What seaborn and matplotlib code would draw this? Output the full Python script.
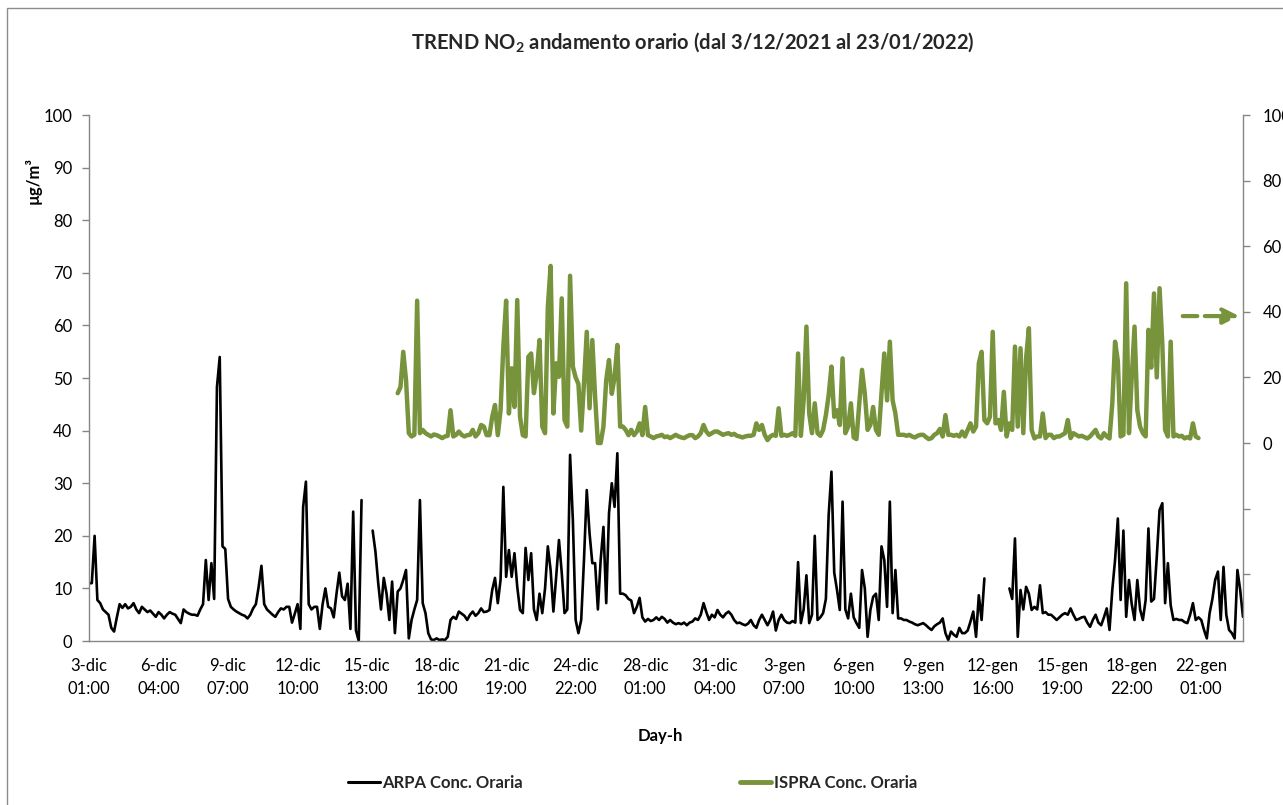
import numpy as np
import pandas as pd
import seaborn as sns
import matplotlib.pyplot as plt
from matplotlib.lines import Line2D
from matplotlib.patches import Rectangle

sns.set_theme(style="white")
plt.rcParams["font.family"] = ["Lato", "DejaVu Sans"]
plt.rcParams["mathtext.fontset"] = "custom"
plt.rcParams["mathtext.rm"] = "Lato"
plt.rcParams["mathtext.bf"] = "Lato:bold"

GREEN = "#77933C"
AXIS_GREY = "#868686"

# hourly NO2 readings, one value every 3 hours
START = "2021-12-03 01:00"
ISPRA_START = "2021-12-16 22:00"
STEP = "3h"
nan = np.nan

arpa = [
    11, 11, 20, 7.8, 7.2, 6, 5.5, 5, 2.5, 1.8,
    4.5, 7, 6.3, 7, 6.2, 6.5, 7.2, 6, 5.3, 6.5,
    6, 5.5, 5.8, 5.2, 4.6, 5.5, 5, 4.3, 5, 5.5,
    5.2, 5, 4.2, 3.4, 6, 5.5, 5.2, 5, 5, 4.8,
    6, 7, 15.4, 7.8, 14.8, 8, 48.3, 54, 18, 17.5,
    8, 6.5, 6, 5.6, 5.3, 5, 4.8, 4.3, 5, 6.2,
    7, 10.3, 14.3, 7, 6, 5.5, 5, 4.6, 5.5, 6.2,
    6, 6.5, 6.5, 3.5, 5.2, 7, 2.3, 25.5, 30.3, 7,
    6, 6.5, 6.5, 2.3, 7, 10, 6.5, 6.2, 4.5, 9,
    13, 8.5, 7.8, 10.9, 2.3, 24.6, 2, 0, 26.8, nan,
    nan, nan, 21, 17, 11, 6, 12, 9, 4, 11.3,
    1.5, 9.4, 10, 11.6, 13.5, 0.5, 4, 6, 7.8, 26.8,
    7.2, 5.3, 1.5, 0.3, 0.2, 0.5, 0.2, 0.3, 0.2, 0.8,
    4, 4.6, 4.2, 5.6, 5.2, 4.8, 4, 5, 5.6, 4.8,
    5.3, 6.2, 5.5, 5.6, 5.9, 9.7, 12, 7.2, 11.6, 29.3,
    12.2, 17.3, 12.2, 16.7, 10.3, 5.9, 5.3, 17.7, 11.6, 16.7,
    6, 4, 9, 5.3, 10, 18, 13.5, 5.6, 12.2, 19.2,
    13, 5.3, 6, 35.4, 23, 4, 1.5, 4, 15.4, 28.7,
    20.5, 14.8, 14.8, 6, 15.4, 21.7, 7.2, 24.3, 30, 25.5,
    35.7, 9, 9, 8.7, 8, 7.7, 5.3, 6.5, 8.2, 4.5,
    3.7, 4.2, 3.8, 4, 4.5, 4, 4.6, 4.2, 3.5, 4,
    3.5, 3.2, 3.4, 3.2, 3.5, 3, 3.5, 3.7, 4.3, 4,
    5, 7.2, 5.5, 4, 5, 4.5, 5.9, 5, 4.5, 5.2,
    5.6, 5, 4, 3.4, 3.5, 3.2, 3, 3.3, 4, 3,
    2.5, 4, 5, 4, 3, 4, 5.6, 2, 4, 5,
    4, 3.5, 3.4, 3.8, 3.5, 15, 3.4, 6, 12.5, 3.4,
    5, 20, 4, 4.5, 5.3, 8, 24, 32.2, 13, 9.7,
    5.9, 26.5, 6, 4.3, 9, 4.5, 3.4, 2.5, 13.5, 10,
    0.8, 5.9, 8.4, 9, 4, 18, 15.4, 6.5, 26.5, 5.3,
    13.5, 4.3, 4.3, 4, 4, 3.7, 3.5, 3.2, 3, 3.2,
    3.4, 3, 2.5, 2.1, 2.8, 3.2, 3.5, 4.3, 1.5, 0.2,
    1.8, 1.2, 0.8, 2.5, 1.5, 1.5, 2, 3.7, 5.6, 0.8,
    8.7, 4, 11.9, nan, nan, nan, nan, nan, nan, nan,
    nan, 10, 8, 19.5, 0.8, 9.7, 6, 10.3, 9, 5.9,
    6.5, 6, 10.6, 5.3, 5.5, 5, 5, 4.5, 4, 4.5,
    5, 5.3, 5, 6.2, 5, 4, 4.2, 4.5, 4.6, 3.5,
    2.7, 4, 5, 3.5, 3, 4.5, 6.2, 2.1, 9.7, 15.4,
    23.3, 7.8, 21, 4.6, 11.6, 7, 4, 11.6, 6, 4,
    7.8, 21.4, 7.5, 8, 16, 24.9, 26.2, 7.2, 14.8, 6.8,
    4, 4.2, 4, 4, 3.6, 3.4, 5, 7.2, 4, 4.5,
    4, 2.1, 0.5, 5.3, 8, 11.6, 13.2, 4, 14.1, 5,
    2.1, 1.5, 0.5, 13.5, 9.7, 4.6,
]

ispra = [
    15.2, 17, 27.8, 19.2, 3, 2, 2.5, 43.4, 3,
    4, 3, 2.5, 2, 2.6, 2.4, 2, 1.5, 2, 2.2,
    10, 2, 2.5, 3.5, 2.5, 2, 2.4, 2.5, 4, 2,
    3, 5.5, 5, 2.4, 2.4, 8, 11.6, 2.4, 10, 29.4,
    43.4, 9, 22.8, 11, 43.6, 8, 2.4, 2, 26.3, 27.3,
    15.2, 21.2, 31.4, 5, 3, 41.5, 54, 9, 24.3, 20.2,
    44.1, 7, 5, 51, 23.3, 20, 18, 3.8, 18.2, 33.9,
    10.6, 31.4, 14.1, 0, 0, 5, 19.2, 25.3, 15, 20,
    29.9, 5, 5, 4, 2.4, 4, 2.4, 3.5, 6, 2.4,
    11, 2.4, 2, 1.5, 2, 2.2, 2.5, 1.8, 2, 1.5,
    2, 2.5, 2, 1.7, 1.5, 2, 2.4, 2.4, 1.5, 2,
    3, 5.5, 3.5, 2.5, 3, 3.5, 3.5, 3, 2.5, 2.8,
    3, 2.5, 2.8, 2.2, 2, 1.7, 2, 2.2, 2.2, 2.5,
    6, 4, 5.5, 2.5, 0.9, 2, 2.5, 2.2, 10.6, 2.2,
    2.5, 2.2, 2.5, 3, 2.2, 27.3, 2.2, 13, 35.5, 9,
    3, 12.1, 3, 2.2, 4, 8.5, 14.6, 23.3, 8, 10,
    5.5, 25.8, 3, 5, 12.1, 1.7, 1.2, 12, 22.3, 15,
    4, 5.5, 11, 4, 2.5, 15.2, 27.3, 13, 30.9, 13,
    9, 2.5, 2.5, 2.5, 2.2, 2.5, 2, 1.7, 2.2, 2.5,
    2.5, 1.8, 1.2, 1.5, 2.5, 3, 4.3, 2, 8.5, 2.5,
    2.5, 2.2, 2.5, 2, 3.5, 2, 4, 6, 3.5, 5,
    24.3, 27.8, 7, 6, 8, 33.9, 6, 7, 4, 15.6,
    2, 6, 4, 29.4, 5, 28.9, 3, 25.8, 35, 4,
    1.4, 2, 2, 9, 1.5, 2.5, 2.5, 1.5, 2, 2,
    2.5, 3, 7, 1.5, 3, 2.5, 2, 2.2, 1.8, 1.4,
    2, 3, 4, 2, 1.4, 3, 2, 1.4, 12, 30.9,
    25, 2, 2.5, 48.7, 3, 20, 35.5, 10, 5, 3,
    2, 34.5, 23, 45.6, 20, 47.2, 30, 4, 2, 30.9,
    2, 2.5, 2, 2.2, 1.4, 1.8, 1.4, 6, 2, 1.5,
]

months = {12: "dic", 1: "gen"}
t0 = pd.Timestamp(START)


def to_frame(first, values):
    df = pd.DataFrame({"t": pd.date_range(first, periods=len(values), freq=STEP),
                       "v": values})
    df["h"] = (df["t"] - t0) / pd.Timedelta(hours=1)
    df["seg"] = df["v"].isna().cumsum()
    return df.dropna()


arpa_df = to_frame(START, arpa)
ispra_df = to_frame(ISPRA_START, ispra)

fig = plt.figure(figsize=(12.83, 8.05), dpi=100)
ax = fig.add_axes([0.0694, 0.2037, 0.8994, 0.6534])
ax2 = ax.twinx()

sns.lineplot(data=arpa_df, x="h", y="v", units="seg", estimator=None,
             color="black", lw=1.9, ax=ax, legend=False)
sns.lineplot(data=ispra_df, x="h", y="v", units="seg", estimator=None,
             color=GREEN, lw=3.2, ax=ax2, legend=False)

# left axis
ax.set_xlim(0, 1245)
ax.set_ylim(0, 100)
ax.set_yticks(range(0, 101, 10))
ax.tick_params(axis="y", left=True, direction="out", length=5, width=1,
               color=AXIS_GREY, labelsize=12, pad=7, labelcolor="black")
xt = np.arange(0, 1201, 75)
ax.set_xticks(xt)
labels = []
for h in xt:
    t = t0 + pd.Timedelta(hours=int(h))
    labels.append(f"{t.day}-{months[t.month]}\n{t:%H:%M}")
ax.set_xticklabels(labels)
ax.tick_params(axis="x", length=0, labelsize=12, pad=12, labelcolor="black")
for lab in ax.get_xticklabels():
    lab.set_linespacing(1.55)

# right axis
ax2.set_ylim(-60.37, 100)
rt = list(range(-40, 101, 20))
ax2.set_yticks(rt)
ax2.set_yticklabels(["" if v < 0 else str(v) for v in rt])
ax2.tick_params(axis="y", right=True, direction="out", length=5, width=1,
                color=AXIS_GREY, labelsize=12, pad=9, labelcolor="black")

for a in (ax, ax2):
    for side in ("top", "left", "right", "bottom"):
        a.spines[side].set_visible(False)
ax.spines["left"].set_visible(True)
ax.spines["bottom"].set_visible(True)
ax2.spines["right"].set_visible(True)
for sp in (ax.spines["left"], ax.spines["bottom"], ax2.spines["right"]):
    sp.set_color(AXIS_GREY)
    sp.set_linewidth(1)
ax.grid(False)
ax2.grid(False)

ax.set_xlabel("Day-h", fontsize=12, fontweight="bold", color="black")
ax.xaxis.set_label_coords(0.495, -0.165)
ax.set_ylabel("µg/m³", fontsize=12, fontweight="bold", color="black")
ax.yaxis.set_label_coords(-0.041, 0.876)
ax2.set_ylabel("")

# limit marker on the right axis
ax2.annotate("", xy=(1241, 38.7), xytext=(1180, 38.7),
             arrowprops=dict(arrowstyle="-|>,head_length=0.8,head_width=0.4",
                             color=GREEN, lw=3, linestyle=(0, (3.5, 1.8)),
                             shrinkA=0, shrinkB=0))

fig.text(693 / 1283, 1 - 42 / 805,
         r"TREND NO$_{\mathbf{2}}$ andamento orario (dal 3/12/2021 al 23/01/2022)",
         ha="center", va="center", fontsize=14.5, fontweight="bold")

handles = [Line2D([], [], color="black", lw=2.2),
           Line2D([], [], color=GREEN, lw=3.5)]
fig.legend(handles, ["ARPA Conc. Oraria", "ISPRA Conc. Oraria"],
           loc="center", bbox_to_anchor=(0.493, 1 - 783 / 805), ncol=2,
           frameon=False, handlelength=1.9, handletextpad=0.15,
           columnspacing=13, prop={"weight": "bold", "size": 12})

fig.add_artist(Rectangle((7 / 1283, -0.1), 1.2, 1 - 8 / 805 + 0.1,
                         transform=fig.transFigure, fill=False,
                         edgecolor="#8c8c8c", lw=1))

fig.savefig("out.png", dpi=100)
